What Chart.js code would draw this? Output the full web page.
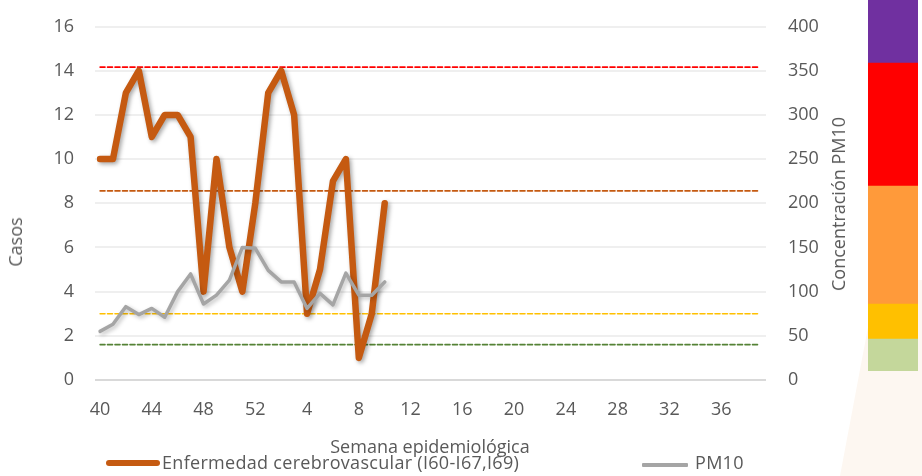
<!DOCTYPE html>
<html><head><meta charset="utf-8">
<script src="https://cdn.jsdelivr.net/npm/chart.js@4.4.0/dist/chart.umd.min.js"></script>
<style>
html,body{margin:0;padding:0;background:#fff;}
#wrap{position:relative;width:922px;height:476px;overflow:hidden;font-family:"Open Sans",sans-serif;color:#595959;background:#fff;}
#wm{position:absolute;left:840px;top:280px;width:82px;height:196px;background:#fdf7f1;clip-path:polygon(45% 0,100% 0,100% 100%,0 100%);}
#main{position:absolute;left:0;top:0;}
#band{position:absolute;left:868px;top:0;}
.ytitle{position:absolute;font-size:18px;white-space:nowrap;line-height:24px;transform:translate(-50%,-50%) rotate(-90deg);}
.lg{position:absolute;font-size:18px;line-height:24px;white-space:nowrap;letter-spacing:0.3px;}
.sw{position:absolute;}
</style></head>
<body>
<div id="wrap">
  <div id="wm"></div>
  <canvas id="main" width="922" height="476"></canvas>
  <canvas id="band" width="50" height="371"></canvas>
  <div class="ytitle" style="left:15px;top:242px">Casos</div>
  <div class="ytitle" style="left:838px;top:204px">Concentración PM10</div>
  <div id="legend"></div>
</div>
<script>
// ---- data ----
const weeks = ['40','41','42','43','44','45','46','47','48','49','50','51','52',
  '1','2','3','4','5','6','7','8','9','10','11','12','13','14','15','16','17','18','19','20',
  '21','22','23','24','25','26','27','28','29','30','31','32','33','34','35','36','37','38','39'];
const casos = [10,10,13,14,11,12,12,11,4,10,6,4,8,13,14,12,3,5,9,10,1,3,8];
const pm10 = [55,63,83,74,81,71,100,120,86,96,113,150,149,124,111,111,81,98,85,121,96,96,111];
const thresholdValues = [354,214,75,40];
const thresholdColors = ['#ff0000','#c55a11','#ffc000','#548235'];
const bandLabels = ['Buena','Regular','Mala','Muy mala','Extremadamente mala'];
const bandSizes = [32,35,118,123,63];
const bandColors = ['#c4d79b','#ffc000','#ff9a3a','#ff0000','#7030a0'];
const seriesNames = ['Enfermedad cerebrovascular (I60-I67,I69)','PM10'];
const seriesColors = ['#c55a11','#a5a5a5'];

const FONT = {family:'"Open Sans", sans-serif', size:18};
const TXT = '#595959';

const shadowPlugin = {
  id:'shadow',
  beforeDatasetDraw(chart,args){
    const ds = chart.data.datasets[args.index];
    if(ds.shadow){const c=chart.ctx;c.save();c.shadowColor=ds.shadow;c.shadowBlur=4;c.shadowOffsetX=2;c.shadowOffsetY=2;}
  },
  afterDatasetDraw(chart,args){
    const ds = chart.data.datasets[args.index];
    if(ds.shadow){chart.ctx.restore();}
  }
};

const datasets = [
  {label:seriesNames[1], data:pm10, yAxisID:'y2', borderColor:seriesColors[1], borderWidth:3.5, order:0, shadow:'rgba(0,0,0,0.25)'},
  {label:seriesNames[0], data:casos, yAxisID:'y', borderColor:seriesColors[0], borderWidth:6.5, order:1, shadow:'rgba(0,0,0,0.35)'}
];
thresholdValues.forEach((t,i)=>{
  datasets.push({label:'umbral '+t, data:[{x:weeks[0],y:t},{x:weeks[weeks.length-1],y:t}], yAxisID:'y2',
    borderColor:thresholdColors[i], borderWidth:1.6, borderDash:[5,2.5], order:2});
});
datasets.forEach(d=>{d.pointRadius=0;d.tension=0;d.fill=false;d.borderJoinStyle='round';d.borderCapStyle='round';d.spanGaps=false;});

new Chart(document.getElementById('main'),{
  type:'line',
  data:{labels:weeks, datasets},
  options:{
    responsive:false, animation:false, events:[],
    layout:{padding:{top:26.5,left:0,right:0,bottom:0}},
    plugins:{legend:{display:false}, tooltip:{enabled:false}},
    scales:{
      x:{type:'category', offset:false,
        grid:{display:false, drawTicks:false}, border:{display:false},
        ticks:{autoSkip:false, maxRotation:0, color:TXT, font:FONT, padding:19,
          callback:(v,i)=> i%4===0 ? weeks[i] : null},
        title:{display:true, text:'Semana epidemiológica', color:TXT, font:FONT, padding:{top:0,bottom:17}},
        afterFit:(s)=>{s.height=96;}
      },
      y:{position:'left', min:0, max:16,
        ticks:{stepSize:2, color:TXT, font:FONT, padding:21},
        grid:{color:(c)=> c.tick && c.tick.value===0 ? '#d9d9d9' : '#efefef', lineWidth:2, tickLength:5, drawTicks:true},
        border:{display:false},
        afterFit:(s)=>{s.width=100; s.paddingTop=4; s.paddingBottom=4;}
      },
      y2:{position:'right', min:0, max:400,
        ticks:{stepSize:50, color:TXT, font:FONT, padding:22},
        grid:{drawOnChartArea:false, drawTicks:true, tickLength:6, color:(c)=> c.tick && c.tick.value===0 ? '#d9d9d9' : '#efefef', lineWidth:2},
        border:{display:false},
        afterFit:(s)=>{s.width=162; s.paddingTop=4; s.paddingBottom=4;}
      }
    }
  },
  plugins:[shadowPlugin]
});

// colour band (air-quality scale)
new Chart(document.getElementById('band'),{
  type:'bar',
  data:{labels:['PM10'], datasets: bandSizes.map((v,i)=>({label:bandLabels[i], data:[v], backgroundColor:bandColors[i], borderWidth:0, barPercentage:1, categoryPercentage:1}))},
  options:{
    responsive:false, animation:false, events:[],
    layout:{padding:0},
    plugins:{legend:{display:false}, tooltip:{enabled:false}},
    scales:{x:{display:false, stacked:true}, y:{display:false, stacked:true, min:0, max:bandSizes.reduce((a,b)=>a+b,0)}}
  }
});

// legend
const lg = document.getElementById('legend');
const items = [
  {sw:{left:106,top:460,width:54,height:6,radius:3}, text:{left:162}, i:0},
  {sw:{left:642,top:463,width:46,height:4,radius:1}, text:{left:695}, i:1}
];
items.forEach(it=>{
  const s=document.createElement('div'); s.className='sw';
  Object.assign(s.style,{left:it.sw.left+'px',top:it.sw.top+'px',width:it.sw.width+'px',height:it.sw.height+'px',background:seriesColors[it.i],borderRadius:it.sw.radius+'px'});
  lg.appendChild(s);
  const t=document.createElement('div'); t.className='lg';
  Object.assign(t.style,{left:it.text.left+'px',top:'450px'});
  t.textContent=seriesNames[it.i];
  lg.appendChild(t);
});
</script>
</body></html>
